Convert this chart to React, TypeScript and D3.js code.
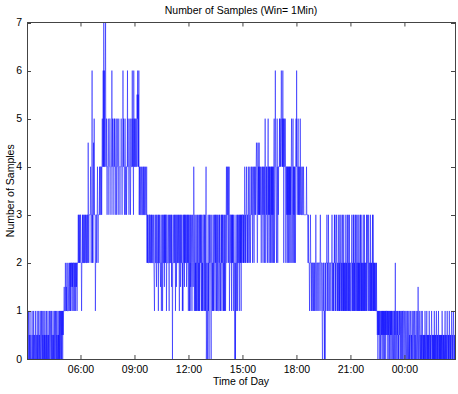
import React from "react";
import * as d3 from "d3";

// Per-minute sample counts, one row per hour starting at 03:00.
// Each character is a hex digit in half-units (value = digit / 2).
const hourRows: string[] = [
  "0010020010 2001000200 1020010020 0100201002 0010200120 0201002010",
  "2001020100 2010020012 0020100201 0020120020 1002010202 0120202120",
  "2122322242 2324222432 2342424344 2434244424 3424434244 4646546466",
  "4424464644 6446465446 4664964666 6686466c46 4896a66624 6646686466",
  "6686886686 8a88c8e8c8 8ce88a8688 8a8688aa88 688c8a8688 a8a8688a68",
  "8a8868a888 6888a88688 c8a8868a86 88688c8a88 688a868a88 8c8a86c8a8",
  "8a88a88bac 8b8c686686 6686668668 6866686668 4646444646 6446464464",
  "4464324644 6436444626 4464434624 4624644636 4646624644 4464264464",
  "4636404464 4464624634 6446464426 4634644624 2464636464 4634646426",
  "4624263464 2464348624 6242624462 4624262464 6426242664 2462624801",
  "4204624064 4642046424 2624464264 6426246224 6462424646 2464624262",
  "4624684486 6846824664 4626464624 6440404624 4626446426 4646264666",
  "4646468646 4686646486 6468646686 6846686468 6866898646 9686968686",
  "6468686468 6848a84686 8648a68486 8468486848 6848a468c8 8648a84868",
  "88a8a89aca 8a8c8a48a8 8a84886848 6848684868 48a8468a48 6848648a8c",
  "8688a68686 6a86866686 6686666666 6686666464 4424464424 4244424424",
  "4246442444 2444244464 2444200424 4402042444 6244264424 4442444624",
  "4242464624 2464424264 2426244624 2462426242 4426242462 4624262442",
  "2446242462 6242462462 4426242624 2462624242 4624262424 4262464426",
  "4244262424 2462624242 4224242212 0212120120 1212021202 1202120212",
  "2120212012 0212021201 2102202140 1210212010 2121012021 0120221012",
  "1012101210 2101201012 1010210121 0120101210 1210310121 0101201021",
  "0101010210 1012010101 0210101012 1010101020 1010120101 0120101010",
  "1010210101 0101201010 1210101021 0101012101 01210101",
];

const xTickMinutes: number[] = [180, 360, 540, 720, 900, 1080, 1260];
const xTickLabels: string[] = ["06:00", "09:00", "12:00", "15:00", "18:00", "21:00", "00:00"];
const yTicks: number[] = [0, 1, 2, 3, 4, 5, 6, 7];

const values: number[] = hourRows
  .join("")
  .replace(/\s/g, "")
  .split("")
  .map((c) => parseInt(c, 16) / 2);

const W = 458;
const H = 394;
const left = 27;
const right = 455;
const top = 22.5;
const bottom = 359;

export default function App() {
  const x = d3.scaleLinear().domain([0, values.length - 1]).range([left, right]);
  const y = d3.scaleLinear().domain([0, 7]).range([bottom, top]);
  const line = d3
    .line<number>()
    .x((_, i) => x(i))
    .y((d) => y(d));
  const font = "'Liberation Sans', Arial, Helvetica, sans-serif";
  const axisColor = "#444";
  const tickLen = 4;
  return (
    <svg
      width={W}
      height={H}
      style={{ position: "absolute", left: 0, top: 0, background: "#fff" }}
      fontFamily={font}
    >
      <rect x={0} y={0} width={W} height={H} fill="#fff" />
      <defs>
        <clipPath id="plotclip">
          <rect x={left} y={top} width={right - left} height={bottom - top} />
        </clipPath>
      </defs>
      <path
        d={line(values) || ""}
        fill="none"
        stroke="#0000ff"
        strokeWidth={0.5}
        clipPath="url(#plotclip)"
      />
      <rect
        x={left + 0.5}
        y={top}
        width={right - left}
        height={bottom - top + 0.5}
        fill="none"
        stroke={axisColor}
        strokeWidth={1}
      />
      {xTickMinutes.map((m, i) => (
        <g key={"xt" + i}>
          <line x1={x(m)} x2={x(m)} y1={bottom} y2={bottom - tickLen} stroke={axisColor} />
          <line x1={x(m)} x2={x(m)} y1={top} y2={top + tickLen} stroke={axisColor} />
          <text x={x(m)} y={373} fontSize={10.5} textAnchor="middle" fill="#000">
            {xTickLabels[i]}
          </text>
        </g>
      ))}
      {yTicks.map((v) => (
        <g key={"yt" + v}>
          <line x1={left} x2={left + tickLen} y1={Math.round(y(v)) + 0.5} y2={Math.round(y(v)) + 0.5} stroke={axisColor} />
          <line x1={right - tickLen} x2={right} y1={Math.round(y(v)) + 0.5} y2={Math.round(y(v)) + 0.5} stroke={axisColor} />
          <text x={22} y={y(v) + 3.5} fontSize={10.5} textAnchor="end" fill="#000">
            {v}
          </text>
        </g>
      ))}
      <text x={(left + right) / 2} y={14} fontSize={10.5} textAnchor="middle" fill="#000">
        Number of Samples (Win= 1Min)
      </text>
      <text x={(left + right) / 2} y={385} fontSize={10.5} textAnchor="middle" fill="#000">
        Time of Day
      </text>
      <text
        transform={`translate(14, ${(top + bottom) / 2}) rotate(-90)`}
        fontSize={10.5}
        textAnchor="middle"
        fill="#000"
      >
        Number of Samples
      </text>
    </svg>
  );
}
